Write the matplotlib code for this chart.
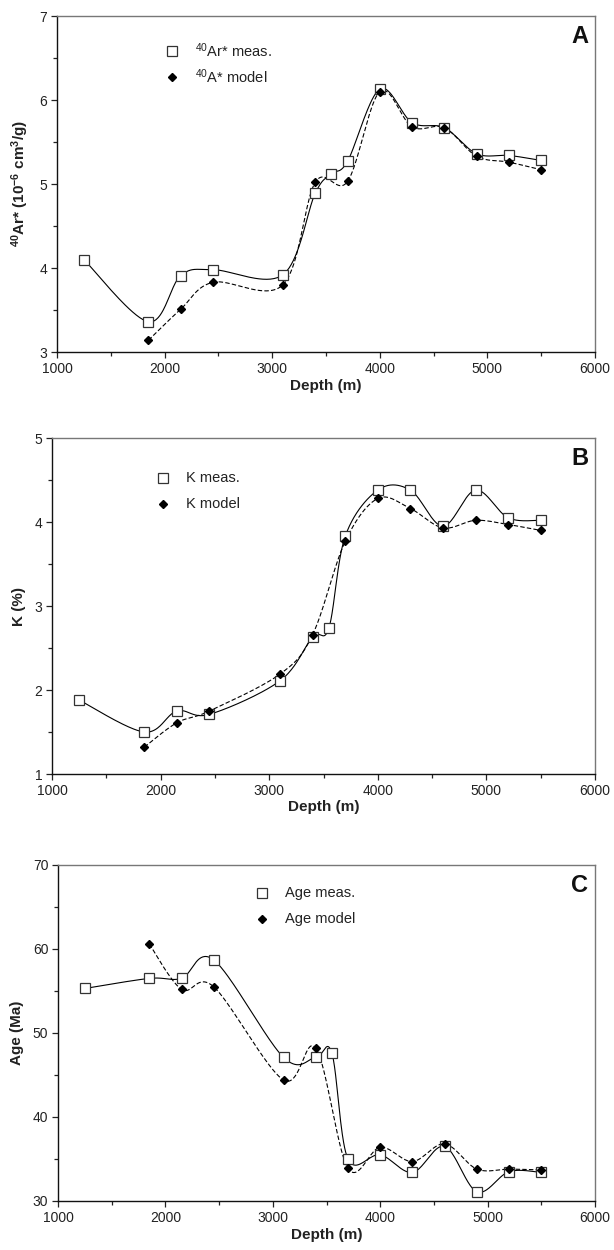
import numpy as np
import matplotlib
matplotlib.use("Agg")
import matplotlib.pyplot as plt
from matplotlib.ticker import MultipleLocator

plt.rcParams['font.family'] = ['Liberation Sans', 'DejaVu Sans']
plt.rcParams['mathtext.fontset'] = 'custom'
plt.rcParams['mathtext.rm'] = 'Liberation Sans'
plt.rcParams['mathtext.default'] = 'regular'

# depths of the samples (m)
depth_meas = [1250, 1850, 2150, 2450, 3100, 3400, 3550, 3700, 4000, 4300, 4600, 4900, 5200, 5500]
depth_model = [1850, 2150, 2450, 3100, 3400, 3700, 4000, 4300, 4600, 4900, 5200, 5500]

# radiogenic argon, 10^-6 cm3/g
ar_meas = [4.10, 3.36, 3.91, 3.98, 3.92, 4.89, 5.12, 5.27, 6.13, 5.73, 5.67, 5.36, 5.34, 5.28]
ar_model = [3.14, 3.51, 3.83, 3.80, 5.02, 5.03, 6.10, 5.68, 5.67, 5.33, 5.26, 5.17]

# potassium, %
k_meas = [1.88, 1.50, 1.75, 1.71, 2.11, 2.63, 2.74, 3.83, 4.38, 4.38, 3.95, 4.38, 4.05, 4.02]
k_model = [1.32, 1.61, 1.75, 2.19, 2.66, 3.77, 4.28, 4.16, 3.93, 4.02, 3.97, 3.90]

# K-Ar age, Ma
age_meas = [55.3, 56.5, 56.5, 58.7, 47.1, 47.1, 47.6, 35.0, 35.5, 33.4, 36.5, 31.1, 33.5, 33.4]
age_model = [60.6, 55.2, 55.5, 44.4, 48.2, 33.9, 36.4, 34.7, 36.8, 33.8, 33.8, 33.7]


def smooth(x, y, n=40):
    # spreadsheet-style smoothed line: Catmull-Rom segments drawn as cubic Beziers
    p = np.column_stack([x, y]).astype(float)
    pts = [p[0]]
    t = np.linspace(0, 1, n)[1:, None]
    for i in range(len(p) - 1):
        p0 = p[i - 1] if i > 0 else p[i]
        p3 = p[i + 2] if i + 2 < len(p) else p[i + 1]
        c1 = p[i] + (p[i + 1] - p0) / 6
        c2 = p[i + 1] - (p3 - p[i]) / 6
        seg = ((1 - t) ** 3) * p[i] + 3 * ((1 - t) ** 2) * t * c1 \
            + 3 * (1 - t) * t ** 2 * c2 + t ** 3 * p[i + 1]
        pts.extend(seg)
    pts = np.array(pts)
    return pts[:, 0], pts[:, 1]


def add_axes(fig, left, right, top, bottom):
    W, H = 614, 1250
    return fig.add_axes([left / W, 1 - bottom / H, (right - left) / W, (bottom - top) / H])


def panel(ax, meas, model, ylim, ystep, yminor, ylabel, letter, lab_meas, lab_model, leg_x, leg_y):
    xs, ys = smooth(depth_meas, meas)
    ax.plot(xs, ys, color='black', lw=0.8, zorder=2)
    xs, ys = smooth(depth_model, model)
    ax.plot(xs, ys, color='black', lw=0.8, dashes=(4, 2), zorder=2)
    ax.plot(depth_meas, meas, ls='none', marker='s', ms=6.5, mfc='white', mec='#333333', mew=0.9, zorder=3)
    ax.plot(depth_model, model, ls='none', marker='D', ms=4.5, mfc='black', mec='black', zorder=4)

    ax.set_xlim(1000, 6000)
    ax.set_ylim(*ylim)
    ax.xaxis.set_major_locator(MultipleLocator(1000))
    ax.xaxis.set_minor_locator(MultipleLocator(500))
    ax.yaxis.set_major_locator(MultipleLocator(ystep))
    ax.yaxis.set_minor_locator(MultipleLocator(yminor))
    ax.tick_params(which='both', direction='out', top=False, right=False,
                   labelsize=10, colors='#222222', width=0.9)
    ax.tick_params(which='major', length=4, pad=3)
    ax.tick_params(which='minor', length=3)
    for s in ('left', 'bottom'):
        ax.spines[s].set_color('#111111')
        ax.spines[s].set_linewidth(1.0)
    for s in ('top', 'right'):
        ax.spines[s].set_color('#777777')
        ax.spines[s].set_linewidth(1.0)

    ax.set_xlabel('Depth (m)', fontsize=11, fontweight='bold', labelpad=2, color='#222222')
    ax.set_ylabel(ylabel, fontsize=11, fontweight='bold', labelpad=6, color='#222222')
    ax.text(0.972, 0.94, letter, transform=ax.transAxes, ha='center', va='center',
            fontsize=17, fontweight='bold', color='#111111')

    # legend keys
    ax.plot(leg_x, leg_y, transform=ax.transAxes, marker='s', ms=6.5, mfc='white',
            mec='#333333', mew=0.9, ls='none', clip_on=False)
    ax.plot(leg_x, leg_y - 0.078, transform=ax.transAxes, marker='D', ms=4.5,
            mfc='black', mec='black', ls='none', clip_on=False)
    ax.text(leg_x + 0.042, leg_y, lab_meas, transform=ax.transAxes, va='center',
            fontsize=10.5, color='#222222')
    ax.text(leg_x + 0.042, leg_y - 0.078, lab_model, transform=ax.transAxes, va='center',
            fontsize=10.5, color='#222222')


fig = plt.figure(figsize=(6.14, 12.5), dpi=100)

ax_a = add_axes(fig, 57, 595, 16, 352)
panel(ax_a, ar_meas, ar_model, (3, 7), 1, 0.5,
      r'$^{40}$Ar* (10$^{-6}$ cm$^{3}$/g)', 'A',
      r'$^{40}$Ar* meas.', r'$^{40}$A* model', 0.214, 0.896)

ax_b = add_axes(fig, 52, 595, 438, 774)
panel(ax_b, k_meas, k_model, (1, 5), 1, 0.5, 'K (%)', 'B',
      'K meas.', 'K model', 0.204, 0.881)

ax_c = add_axes(fig, 58, 595, 865, 1201)
panel(ax_c, age_meas, age_model, (30, 70), 10, 5, 'Age (Ma)', 'C',
      'Age meas.', 'Age model', 0.38, 0.917)

fig.savefig('out.png', dpi=100)
